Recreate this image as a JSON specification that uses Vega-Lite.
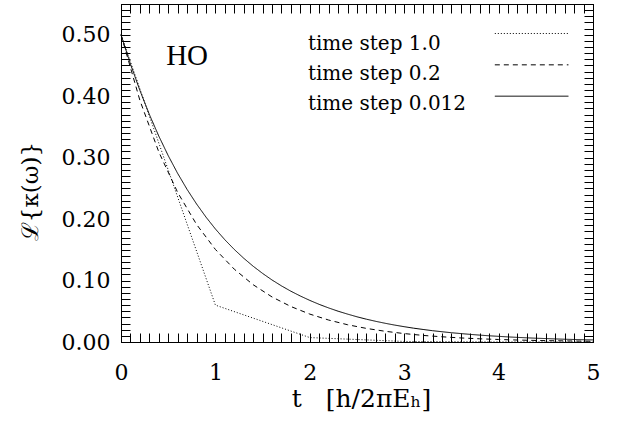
{
  "$schema": "https://vega.github.io/schema/vega-lite/v6.json",
  "width": 472,
  "height": 338,
  "autosize": {"type": "none"},
  "padding": {"left": 121, "top": 4, "right": 27, "bottom": 82},
  "background": "white",
  "config": {
    "view": {"stroke": "black", "strokeWidth": 1},
    "axis": {
      "grid": false,
      "domainColor": "black",
      "tickColor": "black",
      "labelColor": "black",
      "titleColor": "black",
      "labelFont": "DejaVu Serif",
      "titleFont": "DejaVu Serif",
      "titleFontWeight": "normal",
      "domainWidth": 1,
      "tickWidth": 1,
      "tickSize": -9,
      "labelOverlap": false,
      "labelFlush": false
    }
  },
  "datasets": {
    "curves": [
      {"t": 0, "v": 0.5, "series": "time step 1.0"},
      {"t": 1, "v": 0.06, "series": "time step 1.0"},
      {"t": 2, "v": 0.0072, "series": "time step 1.0"},
      {"t": 3, "v": 0.0009, "series": "time step 1.0"},
      {"t": 4, "v": 0.0001, "series": "time step 1.0"},
      {"t": 5, "v": 0.0, "series": "time step 1.0"},
      {"t": 0, "v": 0.5, "series": "time step 0.2"},
      {"t": 0.2, "v": 0.3933, "series": "time step 0.2"},
      {"t": 0.4, "v": 0.3094, "series": "time step 0.2"},
      {"t": 0.6, "v": 0.2434, "series": "time step 0.2"},
      {"t": 0.8, "v": 0.1914, "series": "time step 0.2"},
      {"t": 1.0, "v": 0.1506, "series": "time step 0.2"},
      {"t": 1.2, "v": 0.1185, "series": "time step 0.2"},
      {"t": 1.4, "v": 0.0932, "series": "time step 0.2"},
      {"t": 1.6, "v": 0.0733, "series": "time step 0.2"},
      {"t": 1.8, "v": 0.0577, "series": "time step 0.2"},
      {"t": 2.0, "v": 0.0454, "series": "time step 0.2"},
      {"t": 2.2, "v": 0.0357, "series": "time step 0.2"},
      {"t": 2.4, "v": 0.0281, "series": "time step 0.2"},
      {"t": 2.6, "v": 0.0221, "series": "time step 0.2"},
      {"t": 2.8, "v": 0.0174, "series": "time step 0.2"},
      {"t": 3.0, "v": 0.0137, "series": "time step 0.2"},
      {"t": 3.2, "v": 0.0107, "series": "time step 0.2"},
      {"t": 3.4, "v": 0.0085, "series": "time step 0.2"},
      {"t": 3.6, "v": 0.0066, "series": "time step 0.2"},
      {"t": 3.8, "v": 0.0052, "series": "time step 0.2"},
      {"t": 4.0, "v": 0.0041, "series": "time step 0.2"},
      {"t": 4.2, "v": 0.0032, "series": "time step 0.2"},
      {"t": 4.4, "v": 0.0025, "series": "time step 0.2"},
      {"t": 4.6, "v": 0.002, "series": "time step 0.2"},
      {"t": 4.8, "v": 0.0016, "series": "time step 0.2"},
      {"t": 5.0, "v": 0.0012, "series": "time step 0.2"},
      {"t": 0.0, "v": 0.5, "series": "time step 0.012"},
      {"t": 0.1, "v": 0.4524, "series": "time step 0.012"},
      {"t": 0.2, "v": 0.4094, "series": "time step 0.012"},
      {"t": 0.3, "v": 0.3704, "series": "time step 0.012"},
      {"t": 0.4, "v": 0.3352, "series": "time step 0.012"},
      {"t": 0.5, "v": 0.3033, "series": "time step 0.012"},
      {"t": 0.6, "v": 0.2744, "series": "time step 0.012"},
      {"t": 0.7, "v": 0.2483, "series": "time step 0.012"},
      {"t": 0.8, "v": 0.2247, "series": "time step 0.012"},
      {"t": 0.9, "v": 0.2033, "series": "time step 0.012"},
      {"t": 1.0, "v": 0.1839, "series": "time step 0.012"},
      {"t": 1.1, "v": 0.1664, "series": "time step 0.012"},
      {"t": 1.2, "v": 0.1506, "series": "time step 0.012"},
      {"t": 1.3, "v": 0.1363, "series": "time step 0.012"},
      {"t": 1.4, "v": 0.1233, "series": "time step 0.012"},
      {"t": 1.5, "v": 0.1116, "series": "time step 0.012"},
      {"t": 1.6, "v": 0.1009, "series": "time step 0.012"},
      {"t": 1.7, "v": 0.0913, "series": "time step 0.012"},
      {"t": 1.8, "v": 0.0826, "series": "time step 0.012"},
      {"t": 1.9, "v": 0.0748, "series": "time step 0.012"},
      {"t": 2.0, "v": 0.0677, "series": "time step 0.012"},
      {"t": 2.1, "v": 0.0612, "series": "time step 0.012"},
      {"t": 2.2, "v": 0.0554, "series": "time step 0.012"},
      {"t": 2.3, "v": 0.0501, "series": "time step 0.012"},
      {"t": 2.4, "v": 0.0454, "series": "time step 0.012"},
      {"t": 2.5, "v": 0.041, "series": "time step 0.012"},
      {"t": 2.6, "v": 0.0371, "series": "time step 0.012"},
      {"t": 2.7, "v": 0.0336, "series": "time step 0.012"},
      {"t": 2.8, "v": 0.0304, "series": "time step 0.012"},
      {"t": 2.9, "v": 0.0275, "series": "time step 0.012"},
      {"t": 3.0, "v": 0.0249, "series": "time step 0.012"},
      {"t": 3.1, "v": 0.0225, "series": "time step 0.012"},
      {"t": 3.2, "v": 0.0204, "series": "time step 0.012"},
      {"t": 3.3, "v": 0.0184, "series": "time step 0.012"},
      {"t": 3.4, "v": 0.0167, "series": "time step 0.012"},
      {"t": 3.5, "v": 0.0151, "series": "time step 0.012"},
      {"t": 3.6, "v": 0.0137, "series": "time step 0.012"},
      {"t": 3.7, "v": 0.0124, "series": "time step 0.012"},
      {"t": 3.8, "v": 0.0112, "series": "time step 0.012"},
      {"t": 3.9, "v": 0.0101, "series": "time step 0.012"},
      {"t": 4.0, "v": 0.0092, "series": "time step 0.012"},
      {"t": 4.1, "v": 0.0083, "series": "time step 0.012"},
      {"t": 4.2, "v": 0.0075, "series": "time step 0.012"},
      {"t": 4.3, "v": 0.0068, "series": "time step 0.012"},
      {"t": 4.4, "v": 0.0061, "series": "time step 0.012"},
      {"t": 4.5, "v": 0.0056, "series": "time step 0.012"},
      {"t": 4.6, "v": 0.005, "series": "time step 0.012"},
      {"t": 4.7, "v": 0.0045, "series": "time step 0.012"},
      {"t": 4.8, "v": 0.0041, "series": "time step 0.012"},
      {"t": 4.9, "v": 0.0037, "series": "time step 0.012"},
      {"t": 5.0, "v": 0.0034, "series": "time step 0.012"}
    ],
    "legend": [
      {"series": "time step 1.0", "x1": 3.96, "x2": 4.74, "y": 0.502, "tx": 1.98, "ty": 0.485},
      {"series": "time step 0.2", "x1": 3.96, "x2": 4.74, "y": 0.451, "tx": 1.98, "ty": 0.436},
      {"series": "time step 0.012", "x1": 3.96, "x2": 4.74, "y": 0.4, "tx": 1.98, "ty": 0.387}
    ],
    "notes": [
      {"tx": 0.7, "ty": 0.465, "label": "HO"}
    ]
  },
  "layer": [
    {
      "data": {"name": "curves"},
      "mark": {"type": "line", "color": "black", "strokeWidth": 1},
      "encoding": {
        "x": {
          "field": "t", "type": "quantitative",
          "scale": {"domain": [0, 5], "nice": false, "zero": false},
          "axis": {
            "orient": "bottom",
            "values": [0,0.1,0.2,0.3,0.4,0.5,0.6,0.7,0.8,0.9,1,1.1,1.2,1.3,1.4,1.5,1.6,1.7,1.8,1.9,2,2.1,2.2,2.3,2.4,2.5,2.6,2.7,2.8,2.9,3,3.1,3.2,3.3,3.4,3.5,3.6,3.7,3.8,3.9,4,4.1,4.2,4.3,4.4,4.5,4.6,4.7,4.8,4.9,5],
            "encoding": {"ticks": {"update": {"y2": [{"test": "abs(datum.value - round(datum.value)) < 1e-6", "value": -9}, {"value": -4}]}}},
            "labelExpr": "abs(datum.value - round(datum.value)) < 1e-6 ? format(datum.value, 'd') : ''",
            "labelFontSize": 22,
            "labelPadding": 29,
            "labelBaseline": "top",
            "title": "t\u00a0\u00a0\u00a0[h/2\u03c0E\u2095]",
            "titleFontSize": 25,
            "titleX": 240,
            "titleY": 56,
            "titleBaseline": "middle",
            "titleAlign": "center"
          }
        },
        "y": {
          "field": "v", "type": "quantitative",
          "scale": {"domain": [0, 0.55], "nice": false},
          "axis": {
            "orient": "left",
            "values": [0,0.01,0.02,0.03,0.04,0.05,0.06,0.07,0.08,0.09,0.1,0.11,0.12,0.13,0.14,0.15,0.16,0.17,0.18,0.19,0.2,0.21,0.22,0.23,0.24,0.25,0.26,0.27,0.28,0.29,0.3,0.31,0.32,0.33,0.34,0.35,0.36,0.37,0.38,0.39,0.4,0.41,0.42,0.43,0.44,0.45,0.46,0.47,0.48,0.49,0.5,0.51,0.52,0.53,0.54,0.55],
            "encoding": {"ticks": {"update": {"x2": [{"test": "abs(datum.value * 10 - round(datum.value * 10)) < 1e-6", "value": 9}, {"value": 4}]}}},
            "labelExpr": "abs(datum.value * 10 - round(datum.value * 10)) < 1e-6 ? format(datum.value, '.2f') : ''",
            "labelFontSize": 22,
            "labelPadding": 20,
            "labelBaseline": "middle",
            "title": "\u2112{\u03ba(\u03c9)}",
            "titleFontSize": 23,
            "titleX": -91,
            "titleY": 187,
            "titleAngle": -90,
            "titleAlign": "center",
            "titleBaseline": "middle"
          }
        },
        "strokeDash": {
          "field": "series", "type": "nominal",
          "scale": {"domain": ["time step 1.0", "time step 0.2", "time step 0.012"], "range": [[1, 2], [5, 4], [1, 0]]},
          "legend": null
        }
      }
    },
    {
      "data": {"name": "legend"},
      "mark": {"type": "rule", "color": "black", "strokeWidth": 1},
      "encoding": {
        "x": {
          "field": "x1", "type": "quantitative",
          "axis": {
            "orient": "top",
            "values": [0,0.1,0.2,0.3,0.4,0.5,0.6,0.7,0.8,0.9,1,1.1,1.2,1.3,1.4,1.5,1.6,1.7,1.8,1.9,2,2.1,2.2,2.3,2.4,2.5,2.6,2.7,2.8,2.9,3,3.1,3.2,3.3,3.4,3.5,3.6,3.7,3.8,3.9,4,4.1,4.2,4.3,4.4,4.5,4.6,4.7,4.8,4.9,5],
            "encoding": {"ticks": {"update": {"y2": [{"test": "abs(datum.value - round(datum.value)) < 1e-6", "value": 9}, {"value": 4}]}}},
            "labels": false,
            "title": null
          }
        },
        "x2": {"field": "x2"},
        "y": {
          "field": "y", "type": "quantitative",
          "axis": {
            "orient": "right",
            "values": [0,0.01,0.02,0.03,0.04,0.05,0.06,0.07,0.08,0.09,0.1,0.11,0.12,0.13,0.14,0.15,0.16,0.17,0.18,0.19,0.2,0.21,0.22,0.23,0.24,0.25,0.26,0.27,0.28,0.29,0.3,0.31,0.32,0.33,0.34,0.35,0.36,0.37,0.38,0.39,0.4,0.41,0.42,0.43,0.44,0.45,0.46,0.47,0.48,0.49,0.5,0.51,0.52,0.53,0.54,0.55],
            "encoding": {"ticks": {"update": {"x2": [{"test": "abs(datum.value * 10 - round(datum.value * 10)) < 1e-6", "value": -9}, {"value": -4}]}}},
            "labels": false,
            "title": null
          }
        },
        "strokeDash": {"field": "series", "type": "nominal", "legend": null}
      }
    },
    {
      "data": {"name": "legend"},
      "mark": {"type": "text", "align": "left", "baseline": "middle", "font": "DejaVu Serif", "fontSize": 20, "color": "black"},
      "encoding": {
        "x": {"field": "tx", "type": "quantitative", "axis": null},
        "y": {"field": "ty", "type": "quantitative", "axis": null},
        "text": {"field": "series"}
      }
    },
    {
      "data": {"name": "notes"},
      "mark": {"type": "text", "align": "center", "baseline": "middle", "font": "Liberation Serif", "fontSize": 29, "color": "black"},
      "encoding": {
        "x": {"field": "tx", "type": "quantitative", "axis": null},
        "y": {"field": "ty", "type": "quantitative", "axis": null},
        "text": {"field": "label"}
      }
    }
  ],
  "resolve": {"axis": {"x": "independent", "y": "independent"}}
}
